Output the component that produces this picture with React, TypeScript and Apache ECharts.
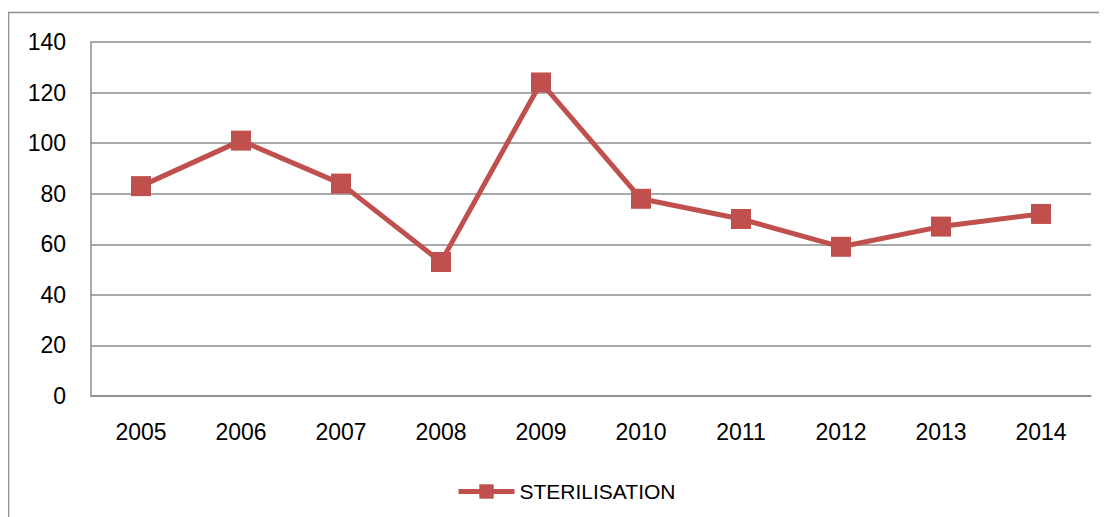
import React, { useEffect, useRef } from "react";
import * as echarts from "echarts";

const categories = ["2005", "2006", "2007", "2008", "2009", "2010", "2011", "2012", "2013", "2014"];
const sterilisation = [83, 101, 84, 53, 124, 78, 70, 59, 67, 72];
const seriesName = "STERILISATION";

export default function App() {
  const ref = useRef<HTMLDivElement>(null);
  useEffect(() => {
    const chart = echarts.init(ref.current!, null, { renderer: "svg" });
    const font = "'Liberation Sans', Arial, sans-serif";
    chart.setOption({
      animation: false,
      backgroundColor: "#ffffff",
      graphic: [
        {
          type: "rect",
          shape: { x: 0.5, y: 4.5, width: 1200, height: 600 },
          style: { fill: "none", stroke: "#8e8e8e", lineWidth: 1.5 },
          silent: true,
        },
      ],
      grid: { left: 83, top: 34, width: 1000, height: 354, containLabel: false },
      legend: {
        left: 443,
        top: 468,
        itemWidth: 56,
        itemHeight: 18,
        itemGap: 4,
        lineStyle: { width: 5 },
        textStyle: { fontFamily: font, fontSize: 21, color: "#000" },
        data: [seriesName],
      },
      xAxis: {
        type: "category",
        data: categories,
        boundaryGap: true,
        axisLine: { show: true, lineStyle: { color: "#8c8c8c", width: 1.5 } },
        axisTick: { show: false },
        axisLabel: { fontFamily: font, fontSize: 23, color: "#000", margin: 24 },
      },
      yAxis: {
        type: "value",
        min: 0,
        max: 140,
        interval: 20,
        axisLine: { show: true, lineStyle: { color: "#8c8c8c", width: 1.5 } },
        axisTick: { show: false },
        splitLine: { show: true, lineStyle: { color: "#8c8c8c", width: 1.5 } },
        axisLabel: { fontFamily: font, fontSize: 23, color: "#000", margin: 25 },
      },
      series: [
        {
          name: seriesName,
          type: "line",
          data: sterilisation,
          symbol: "rect",
          symbolSize: 20,
          itemStyle: { color: "#C0504D" },
          lineStyle: { color: "#C0504D", width: 5 },
        },
      ],
    });
    return () => chart.dispose();
  }, []);
  return <div ref={ref} style={{ width: 1099, height: 509 }} />;
}
